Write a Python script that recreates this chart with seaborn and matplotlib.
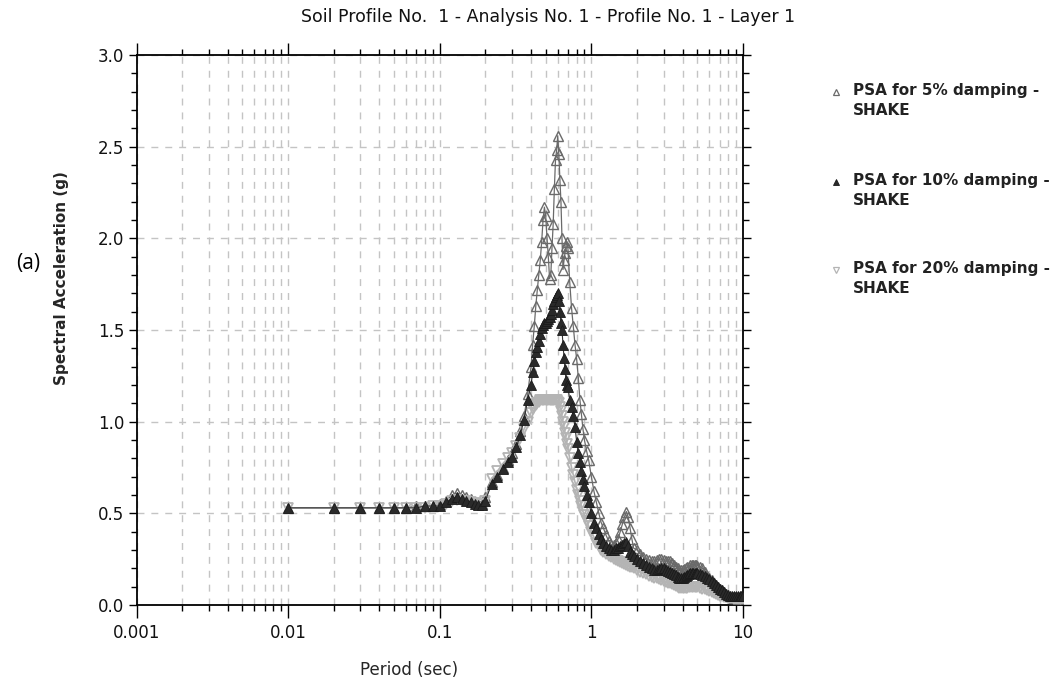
import matplotlib
matplotlib.use("Agg")
import matplotlib.pyplot as plt
from matplotlib.lines import Line2D
from matplotlib.ticker import FixedLocator, FixedFormatter, MultipleLocator, LogLocator, NullFormatter
import seaborn as sns
import pandas as pd

# ---- data -------------------------------------------------------------
period = [
    0.01, 0.02, 0.03, 0.04, 0.05, 0.06, 0.07, 0.08, 0.09, 0.10,
    0.11, 0.12, 0.13, 0.14, 0.15, 0.16, 0.17, 0.18, 0.19, 0.20,
    0.22, 0.24, 0.26, 0.28, 0.30, 0.32, 0.34, 0.36, 0.38, 0.40,
    0.41, 0.42, 0.43, 0.44, 0.45, 0.46, 0.47, 0.48, 0.49, 0.50,
    0.51, 0.52, 0.53, 0.54, 0.55, 0.56, 0.57, 0.58, 0.59, 0.60,
    0.61, 0.62, 0.63, 0.64, 0.65, 0.66, 0.67, 0.68, 0.69, 0.70,
    0.72, 0.74, 0.76, 0.78, 0.80, 0.82, 0.84, 0.86, 0.88, 0.90,
    0.93, 0.96, 1.00, 1.04, 1.08, 1.12, 1.16, 1.20, 1.25, 1.30,
    1.35, 1.40, 1.45, 1.50, 1.55, 1.60, 1.65, 1.70, 1.75, 1.80,
    1.85, 1.90, 2.00, 2.10, 2.20, 2.30, 2.40, 2.50, 2.60, 2.70,
    2.80, 2.90, 3.00, 3.10, 3.20, 3.30, 3.40, 3.50, 3.60, 3.70,
    3.80, 3.90, 4.00, 4.10, 4.20, 4.30, 4.40, 4.50, 4.60, 4.70,
    4.80, 4.90, 5.00, 5.20, 5.40, 5.60, 5.80, 6.00, 6.20, 6.40,
    6.60, 6.80, 7.00, 7.25, 7.50, 7.75, 8.00, 8.25, 8.50, 8.75,
    9.00, 9.25, 9.50, 9.75, 10.0,
]

psa_5 = [
    0.53, 0.53, 0.53, 0.53, 0.53, 0.53, 0.54, 0.54, 0.54, 0.55,
    0.57, 0.60, 0.61, 0.60, 0.59, 0.58, 0.56, 0.55, 0.55, 0.59,
    0.67, 0.71, 0.75, 0.79, 0.83, 0.88, 0.95, 1.03, 1.15, 1.30,
    1.42, 1.52, 1.63, 1.72, 1.80, 1.88, 1.98, 2.10, 2.17, 2.12,
    2.00, 1.90, 1.78, 1.80, 1.95, 2.08, 2.27, 2.43, 2.48, 2.56,
    2.46, 2.32, 2.20, 2.00, 1.83, 1.88, 1.92, 1.96, 1.98, 1.95,
    1.76, 1.62, 1.52, 1.42, 1.34, 1.24, 1.12, 1.04, 0.96, 0.90,
    0.84, 0.79, 0.70, 0.62, 0.56, 0.50, 0.45, 0.42, 0.38, 0.35,
    0.33, 0.33, 0.34, 0.36, 0.40, 0.44, 0.48, 0.51, 0.48, 0.42,
    0.36, 0.31, 0.30, 0.28, 0.26, 0.25, 0.245, 0.24, 0.24, 0.245,
    0.25, 0.25, 0.245, 0.24, 0.24, 0.24, 0.23, 0.22, 0.21, 0.20,
    0.19, 0.19, 0.19, 0.195, 0.20, 0.21, 0.21, 0.22, 0.22, 0.22,
    0.22, 0.22, 0.215, 0.21, 0.20, 0.18, 0.16, 0.15, 0.135, 0.12,
    0.11, 0.10, 0.09, 0.08, 0.07, 0.06, 0.055, 0.05, 0.045, 0.04,
    0.04, 0.04, 0.04, 0.04, 0.04,
]

psa_10 = [
    0.53, 0.53, 0.53, 0.53, 0.53, 0.53, 0.53, 0.54, 0.54, 0.54,
    0.56, 0.58, 0.59, 0.58, 0.57, 0.56, 0.55, 0.545, 0.545, 0.57,
    0.66, 0.70, 0.74, 0.78, 0.81, 0.86, 0.93, 1.01, 1.12, 1.20,
    1.27, 1.33, 1.38, 1.41, 1.44, 1.48, 1.51, 1.53, 1.54, 1.54,
    1.55, 1.56, 1.57, 1.59, 1.61, 1.64, 1.66, 1.68, 1.69, 1.70,
    1.66, 1.60, 1.54, 1.50, 1.42, 1.35, 1.29, 1.23, 1.20, 1.19,
    1.12, 1.08, 1.03, 0.97, 0.89, 0.83, 0.78, 0.73, 0.69, 0.65,
    0.60, 0.56, 0.50, 0.45, 0.42, 0.39, 0.36, 0.34, 0.32, 0.31,
    0.30, 0.30, 0.31, 0.31, 0.32, 0.33, 0.34, 0.345, 0.32, 0.29,
    0.28, 0.27, 0.25, 0.24, 0.23, 0.22, 0.21, 0.20, 0.19, 0.19,
    0.195, 0.20, 0.20, 0.19, 0.185, 0.18, 0.175, 0.17, 0.165, 0.155,
    0.15, 0.15, 0.15, 0.155, 0.16, 0.165, 0.17, 0.175, 0.175, 0.175,
    0.175, 0.175, 0.175, 0.17, 0.165, 0.16, 0.15, 0.14, 0.13, 0.12,
    0.11, 0.10, 0.09, 0.08, 0.07, 0.06, 0.055, 0.05, 0.05, 0.05,
    0.05, 0.05, 0.05, 0.05, 0.05,
]

psa_20 = [
    0.53, 0.53, 0.53, 0.53, 0.53, 0.53, 0.53, 0.53, 0.54, 0.54,
    0.55, 0.57, 0.575, 0.57, 0.565, 0.56, 0.555, 0.55, 0.55, 0.57,
    0.69, 0.73, 0.77, 0.80, 0.83, 0.87, 0.91, 0.96, 1.00, 1.05,
    1.07, 1.08, 1.09, 1.10, 1.11, 1.12, 1.12, 1.12, 1.12, 1.12,
    1.12, 1.12, 1.12, 1.12, 1.12, 1.12, 1.12, 1.12, 1.12, 1.11,
    1.10, 1.08, 1.06, 1.03, 1.00, 0.97, 0.94, 0.91, 0.88, 0.85,
    0.80, 0.75, 0.71, 0.67, 0.63, 0.60, 0.57, 0.54, 0.51, 0.49,
    0.46, 0.43, 0.40, 0.37, 0.34, 0.32, 0.30, 0.29, 0.28, 0.27,
    0.26, 0.25, 0.245, 0.24, 0.235, 0.23, 0.225, 0.22, 0.215, 0.21,
    0.205, 0.20, 0.19, 0.18, 0.175, 0.17, 0.16, 0.155, 0.15, 0.145,
    0.14, 0.135, 0.13, 0.125, 0.12, 0.12, 0.115, 0.11, 0.105, 0.10,
    0.095, 0.095, 0.095, 0.095, 0.095, 0.095, 0.10, 0.10, 0.10, 0.10,
    0.10, 0.10, 0.10, 0.095, 0.09, 0.085, 0.08, 0.075, 0.07, 0.065,
    0.06, 0.055, 0.05, 0.047, 0.045, 0.042, 0.04, 0.038, 0.036, 0.035,
    0.035, 0.034, 0.033, 0.032, 0.032,
]

series_labels = [
    "PSA for 5% damping -\nSHAKE",
    "PSA for 10% damping -\nSHAKE",
    "PSA for 20% damping -\nSHAKE",
]
x_ticks = [0.001, 0.01, 0.1, 1, 10]
x_tick_labels = ["0.001", "0.01", "0.1", "1", "10"]
y_ticks = [0.0, 0.5, 1.0, 1.5, 2.0, 2.5, 3.0]
y_tick_labels = ["0.0", "0.5", "1.0", "1.5", "2.0", "2.5", "3.0"]

title = "Soil Profile No.  1 - Analysis No. 1 - Profile No. 1 - Layer 1"

# ---- style ------------------------------------------------------------
sns.set_style("ticks")
plt.rcParams["font.family"] = ["DejaVu Sans"]
plt.rcParams["text.color"] = "#111111"

W, H = 1063, 685
fig = plt.figure(figsize=(W / 100, H / 100), dpi=100)
fig.patch.set_facecolor("white")

ax_l, ax_r, ax_t, ax_b = 136.5, 743.0, 55.0, 605.0
ax = fig.add_axes([ax_l / W, 1 - ax_b / H, (ax_r - ax_l) / W, (ax_b - ax_t) / H])
ax.set_facecolor("white")

df = pd.DataFrame({"period": period, "psa5": psa_5, "psa10": psa_10, "psa20": psa_20})

c5, c10, c20 = "#6a6a6a", "#1a1a1a", "#b4b4b4"

# 5% damping: open up-triangles, mid grey
sns.lineplot(data=df, x="period", y="psa5", ax=ax, color=c5, lw=0.9,
             marker="^", markersize=6.5, markerfacecolor="none",
             markeredgecolor=c5, markeredgewidth=1.0,
             estimator=None, sort=False, legend=False, zorder=3)
# 20% damping: open down-triangles, light grey
sns.lineplot(data=df, x="period", y="psa20", ax=ax, color=c20, lw=1.2,
             marker="v", markersize=6.5, markerfacecolor="none",
             markeredgecolor=c20, markeredgewidth=1.3,
             estimator=None, sort=False, legend=False, zorder=4)
# 10% damping: filled up-triangles, black
sns.lineplot(data=df, x="period", y="psa10", ax=ax, color="#333333", lw=0.8,
             marker="^", markersize=6.5, markerfacecolor="#2a2a2a",
             markeredgecolor=c10, markeredgewidth=0.6,
             estimator=None, sort=False, legend=False, zorder=5)

# ---- axes -------------------------------------------------------------
ax.set_xscale("log")
ax.set_xlim(0.001, 10)
ax.set_ylim(0, 3.0)

ax.xaxis.set_major_locator(FixedLocator(x_ticks))
ax.xaxis.set_major_formatter(FixedFormatter(x_tick_labels))
ax.xaxis.set_minor_locator(LogLocator(base=10, subs=[2, 3, 4, 5, 6, 7, 8, 9], numticks=20))
ax.xaxis.set_minor_formatter(NullFormatter())
ax.yaxis.set_major_locator(FixedLocator(y_ticks))
ax.yaxis.set_major_formatter(FixedFormatter(y_tick_labels))
ax.yaxis.set_minor_locator(MultipleLocator(0.1))

grid_kw = dict(color="#c4c4c4", linestyle=(0, (5, 5)), linewidth=1.0)
ax.grid(False)
ax.grid(True, which="both", axis="x", **grid_kw)
ax.grid(True, which="major", axis="y", **grid_kw)
ax.set_axisbelow(True)

for s in ax.spines.values():
    s.set_visible(True)
    s.set_color("black")
    s.set_linewidth(1.3)

ax.tick_params(which="both", direction="out", top=True, right=True,
               labeltop=False, labelright=False, colors="black",
               labelcolor="#111111", labelsize=12, width=1.0)
ax.tick_params(axis="x", which="major", length=9, pad=5)
ax.tick_params(axis="x", which="minor", length=4)
ax.tick_params(axis="y", which="major", length=6, pad=3)
ax.tick_params(axis="y", which="minor", length=4)

ax.set_xlabel("Period (sec)", fontsize=12, labelpad=0)
ax.xaxis.set_label_coords(0.45, -0.102)
ax.set_ylabel("Spectral Acceleration (g)", fontsize=11, fontweight="bold")
ax.yaxis.set_label_coords(-0.112, 0.595)

fig.text(548 / W, 1 - 17 / H, title, ha="center", va="center", fontsize=12.5)
fig.text(16 / W, 1 - 263 / H, "(a)", ha="left", va="center", fontsize=15,
         family=["Open Sans", "DejaVu Sans"], color="black")

# ---- legend (marker aligned with the first text line) ------------------
leg_styles = [
    dict(marker="^", markerfacecolor="none", markeredgecolor=c5, markeredgewidth=0.9, markersize=5),
    dict(marker="^", markerfacecolor="#2a2a2a", markeredgecolor=c10, markeredgewidth=0.6, markersize=5),
    dict(marker="v", markerfacecolor="none", markeredgecolor=c20, markeredgewidth=0.9, markersize=5),
]
leg_y = [92, 182, 270]
for lbl, sty, yy in zip(series_labels, leg_styles, leg_y):
    fig.add_artist(Line2D([836 / W], [1 - yy / H], transform=fig.transFigure,
                          linestyle="none", **sty))
    fig.text(853 / W, 1 - (yy - 9) / H, lbl, ha="left", va="top",
             fontsize=11, fontweight="bold", color="#222222", linespacing=1.4)

fig.savefig("out.png", dpi=100, facecolor="white")
